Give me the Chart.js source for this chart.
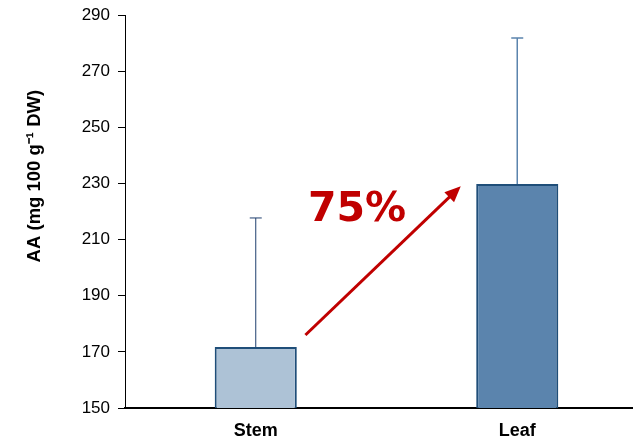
<!DOCTYPE html>
<html>
<head>
<meta charset="utf-8">
<script src="https://cdn.jsdelivr.net/npm/chart.js@4/dist/chart.umd.min.js"></script>
<style>
  html, body { margin: 0; padding: 0; background: #fff; overflow: hidden; }
  #wrap { width: 648px; height: 443px; }
</style>
</head>
<body>
<div id="wrap"><canvas id="bar-chart"></canvas></div>
<script>
// data
const labels = ['Stem', 'Leaf'];
const means = [171.7, 229.8];
const sds = [46, 52];
const yTicks = [150, 170, 190, 210, 230, 250, 270, 290];
const yTitle = 'AA (mg 100 g\u207B\u00B9 DW)';

const fillColors = ['#adc2d6', '#5b84ad'];
const errColors = ['#1f3f6e', '#5b84ad'];

// error bars on top of each bar
const errorBars = {
  id: 'errorBars',
  afterDatasetsDraw(chart) {
    const ctx = chart.ctx;
    const x = chart.scales.x, y = chart.scales.y;
    means.forEach((m, i) => {
      const px = x.getPixelForValue(i);
      const top = y.getPixelForValue(m + sds[i]);
      const base = y.getPixelForValue(m);
      ctx.save();
      ctx.strokeStyle = errColors[i];
      ctx.lineWidth = i === 0 ? 1 : 1.5;
      ctx.beginPath();
      ctx.moveTo(px, base);
      ctx.lineTo(px, top);
      ctx.moveTo(px - 6, top);
      ctx.lineTo(px + 6, top);
      ctx.stroke();
      ctx.restore();
    });
  }
};

// red arrow + "75%" label, and the y title (sits above centre in the original)
const arrowNote = {
  id: 'arrowNote',
  afterDraw(chart) {
    const ctx = chart.ctx;
    const x = chart.scales.x, y = chart.scales.y;
    const x0 = x.getPixelForValue(0.19), y0 = y.getPixelForValue(176);
    const x1 = x.getPixelForValue(0.784), y1 = y.getPixelForValue(229);
    const ang = Math.atan2(y1 - y0, x1 - x0);
    ctx.save();
    ctx.strokeStyle = '#c00000';
    ctx.fillStyle = '#c00000';
    ctx.lineWidth = 3;
    ctx.beginPath();
    ctx.moveTo(x0, y0);
    ctx.lineTo(x1 - 10 * Math.cos(ang), y1 - 10 * Math.sin(ang));
    ctx.stroke();
    ctx.beginPath();
    ctx.moveTo(x1, y1);
    ctx.lineTo(x1 - 16 * Math.cos(ang) + 7 * Math.sin(ang), y1 - 16 * Math.sin(ang) - 7 * Math.cos(ang));
    ctx.lineTo(x1 - 16 * Math.cos(ang) - 7 * Math.sin(ang), y1 - 16 * Math.sin(ang) + 7 * Math.cos(ang));
    ctx.closePath();
    ctx.fill();
    ctx.font = 'bold 41px "DejaVu Sans"';
    ctx.textBaseline = 'alphabetic';
    ctx.fillText('75%', x.getPixelForValue(0.2), y.getPixelForValue(216.5));
    ctx.restore();

    ctx.save();
    ctx.translate(35, y.getPixelForValue(232.6));
    ctx.rotate(-Math.PI / 2);
    ctx.fillStyle = '#000';
    ctx.font = 'bold 18.5px "Liberation Sans", Arial';
    ctx.textAlign = 'center';
    ctx.textBaseline = 'middle';
    ctx.fillText(yTitle, 0, 0);
    ctx.restore();
  }
};

const barConfig = {
  type: 'bar',
  data: {
    labels: labels,
    datasets: [
      {
        data: means,
        backgroundColor: fillColors,
        borderColor: '#1f4e79',
        borderWidth: 2,
        borderSkipped: 'bottom',
        barPercentage: 0.314,
        categoryPercentage: 1,
      },
    ],
  },
  options: {
    responsive: true,
    maintainAspectRatio: false,
    animation: false,
    layout: { padding: { top: 15, right: 0, left: 20, bottom: 0 } },
    plugins: {
      legend: { display: false },
      tooltip: { enabled: false },
    },
    scales: {
      y: {
        min: 150,
        max: 290,
        afterBuildTicks: (s) => { s.ticks = yTicks.map(v => ({ value: v })); },
        afterFit: (s) => { s.width = 105; s.paddingTop = 0; },
        border: { color: '#000', width: 1 },
        grid: { drawOnChartArea: false, color: '#000', tickLength: 7 },
        ticks: {
          color: '#000',
          padding: 8,
          font: { family: 'Liberation Sans, Arial', size: 17, lineHeight: 1 },
        },
      },
      x: {
        afterFit: (s) => { s.height = 35; },
        border: { color: '#000', width: 2 },
        grid: { display: false },
        ticks: {
          color: '#000',
          padding: 4,
          font: { family: 'Liberation Sans, Arial', size: 18, weight: 'bold' },
        },
      },
    },
  },
  plugins: [errorBars, arrowNote],
};

const barChart = document.querySelector('#bar-chart');
new Chart(barChart, barConfig);
</script>
</body>
</html>
